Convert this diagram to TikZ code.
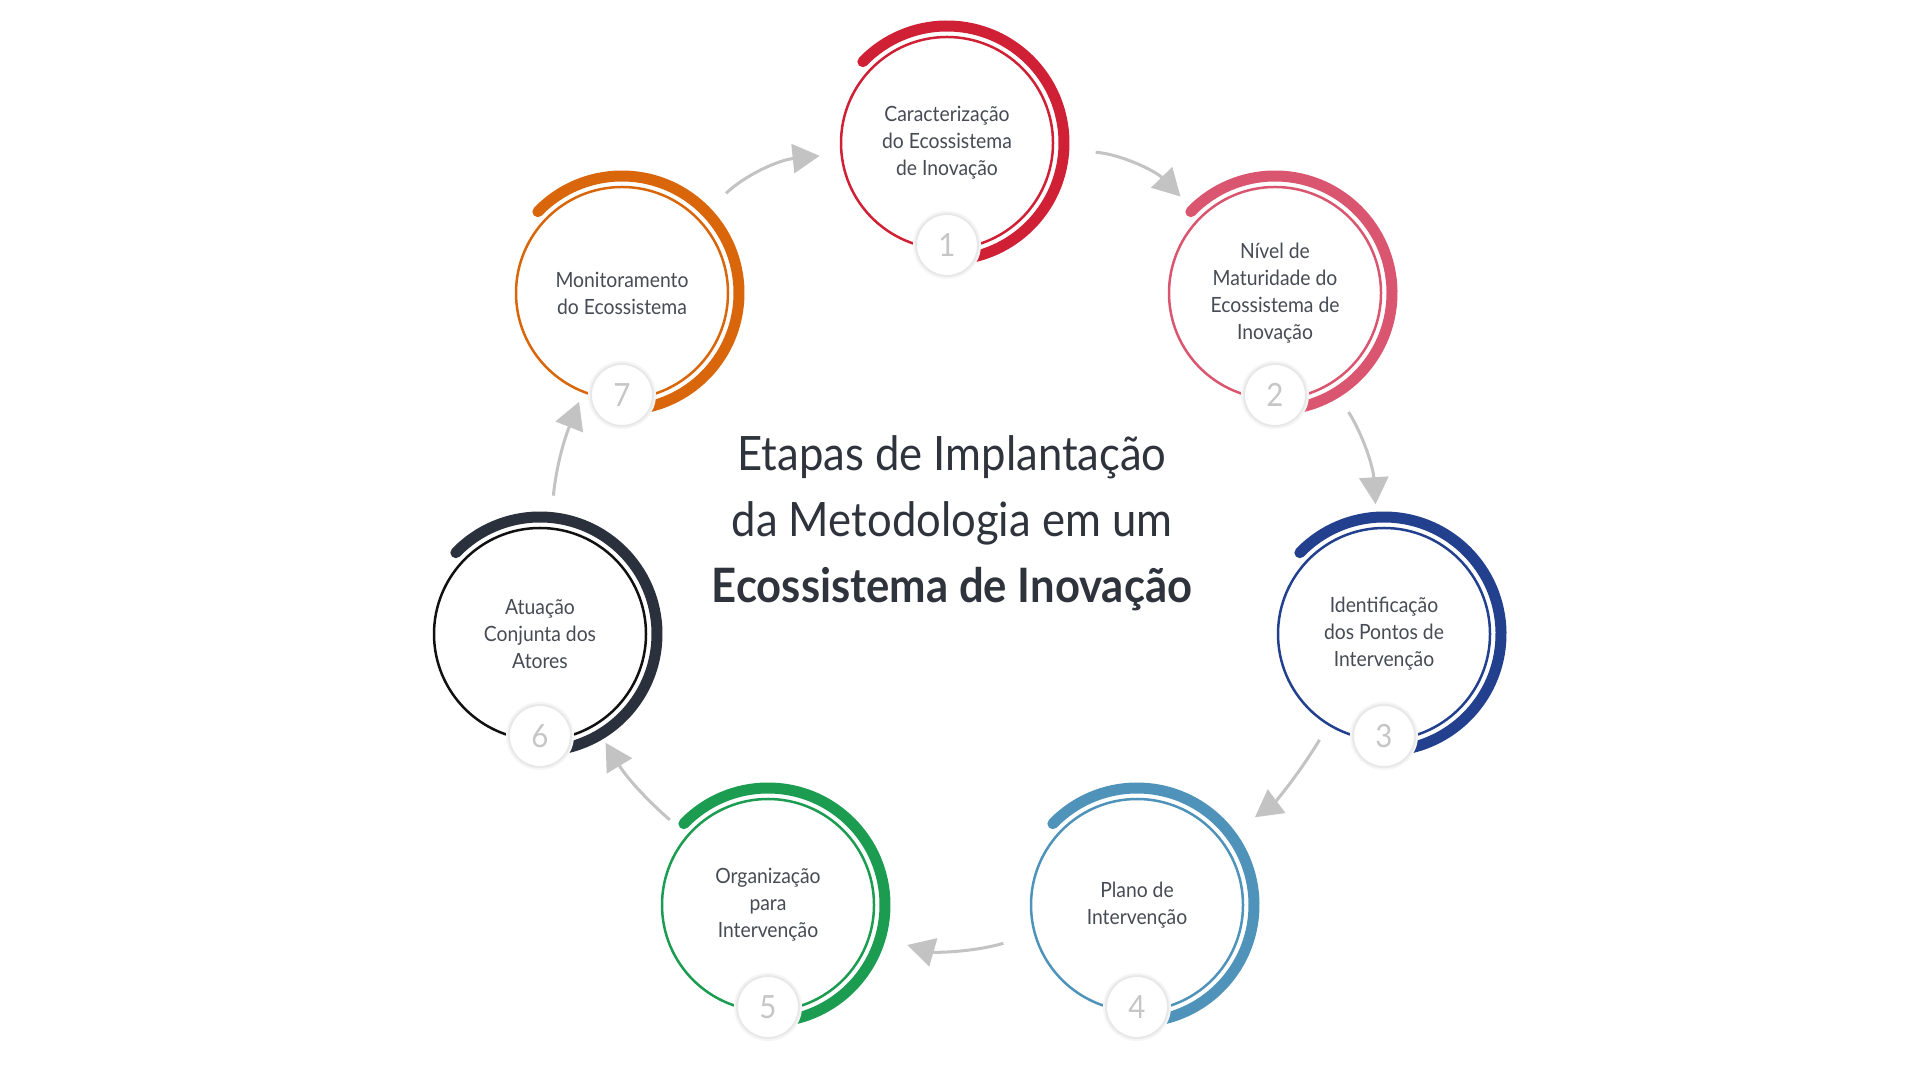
\documentclass[tikz,border=0pt]{standalone}
\usepackage{fontspec}
\setmainfont[FakeStretch=0.92]{Lato}
\usetikzlibrary{arrows.meta}
\definecolor{cA}{HTML}{CF2036}
\definecolor{cB}{HTML}{DA5670}
\definecolor{cC}{HTML}{22408E}
\definecolor{cD}{HTML}{4F93BA}
\definecolor{cE}{HTML}{1B9C50}
\definecolor{cF}{HTML}{2B303D}
\definecolor{cFthin}{HTML}{111111}
\definecolor{cG}{HTML}{D9660B}
\definecolor{txt}{HTML}{474B54}
\definecolor{ttl}{HTML}{2F333C}
\definecolor{numgray}{HTML}{C6C6C6}
\definecolor{arrowgray}{HTML}{C3C3C3}
\newcommand\stagering[3]{%
  \draw[#3, line width=1.25pt] (#1) circle (106);
  \draw[#2, line width=5.5pt, line cap=round] (#1) ++(136:117) arc[start angle=136, end angle=-76, radius=117];
}
\begin{document}
\begin{tikzpicture}[x=0.5pt,y=0.5pt,
  stage/.style={circle, minimum size=115pt, inner sep=0pt, outer sep=0pt, align=center,
    font=\fontsize{10.5}{13.5}\selectfont, text=txt},
  badge/.style={circle, fill=white, draw=black!9, line width=1pt, minimum size=31pt, inner sep=0pt,
    font=\fontsize{16}{16}\selectfont, text=numgray},
  conn/.style={draw=arrowgray, line width=1.5pt, -{Triangle[length=13.5pt,width=14.5pt]}}]
\useasboundingbox[fill=white] (0,0) rectangle (1920,1080);

% centres
\coordinate (p1) at (947,937);
\coordinate (p2) at (1275,787);
\coordinate (p3) at (1384,446);
\coordinate (p4) at (1137,175);
\coordinate (p5) at (768,175);
\coordinate (p6) at (540,446);
\coordinate (p7) at (622,787);

% rings
\stagering{p1}{cA}{cA}
\stagering{p2}{cB}{cB}
\stagering{p3}{cC}{cC}
\stagering{p4}{cD}{cD}
\stagering{p5}{cE}{cE}
\stagering{p6}{cF}{cFthin}
\stagering{p7}{cG}{cG}

% stage texts
\node[stage] (n1) at (p1) {Caracterização\\do Ecossistema\\de Inovação};
\node[stage] (n2) at (p2) {Nível de\\Maturidade do\\Ecossistema de\\Inovação};
\node[stage] (n3) at (p3) {Identificação\\dos Pontos de\\Intervenção};
\node[stage] (n4) at (p4) {Plano de\\Intervenção};
\node[stage] (n5) at (p5) {Organização\\para\\Intervenção};
\node[stage] (n6) at (p6) {Atuação\\Conjunta dos\\Atores};
\node[stage] (n7) at (p7) {Monitoramento\\do Ecossistema};

% badges
\foreach \i in {1,...,7}{
  \fill[black!4] ([yshift=-51pt]p\i) circle (34);
  \node[badge] (b\i) at ([yshift=-51pt]p\i) {\i};
}

% connectors
\draw[conn, shorten <=17pt, shorten >=10pt] (n1) to[bend left=21] (n2);
\draw[conn, shorten <=12.5pt, shorten >=7.5pt] (n2) to[bend left=14] (n3);
\draw[conn, shorten <=4.5pt, shorten >=16pt] (n3) to[bend left=11] (n4);
\draw[conn, shorten <=12pt, shorten >=15pt] (n4) to[bend left=16] (n5);
\draw[conn, shorten <=7.5pt, shorten >=6pt] (n5) to[bend left=9] (n6);
\draw[conn, shorten <=12pt, shorten >=1pt] (n6) to[bend left=8] (n7);
\draw[conn, shorten <=14.5pt, shorten >=6.5pt] (n7) to[bend left=19] (n1);

% title
\node[align=center, text=ttl, font=\fontsize{23.7}{33}\selectfont] (title) at (952,557)
  {Etapas de Implantação\\da Metodologia em um\\\textbf{Ecossistema de Inovação}};
\end{tikzpicture}
\end{document}
